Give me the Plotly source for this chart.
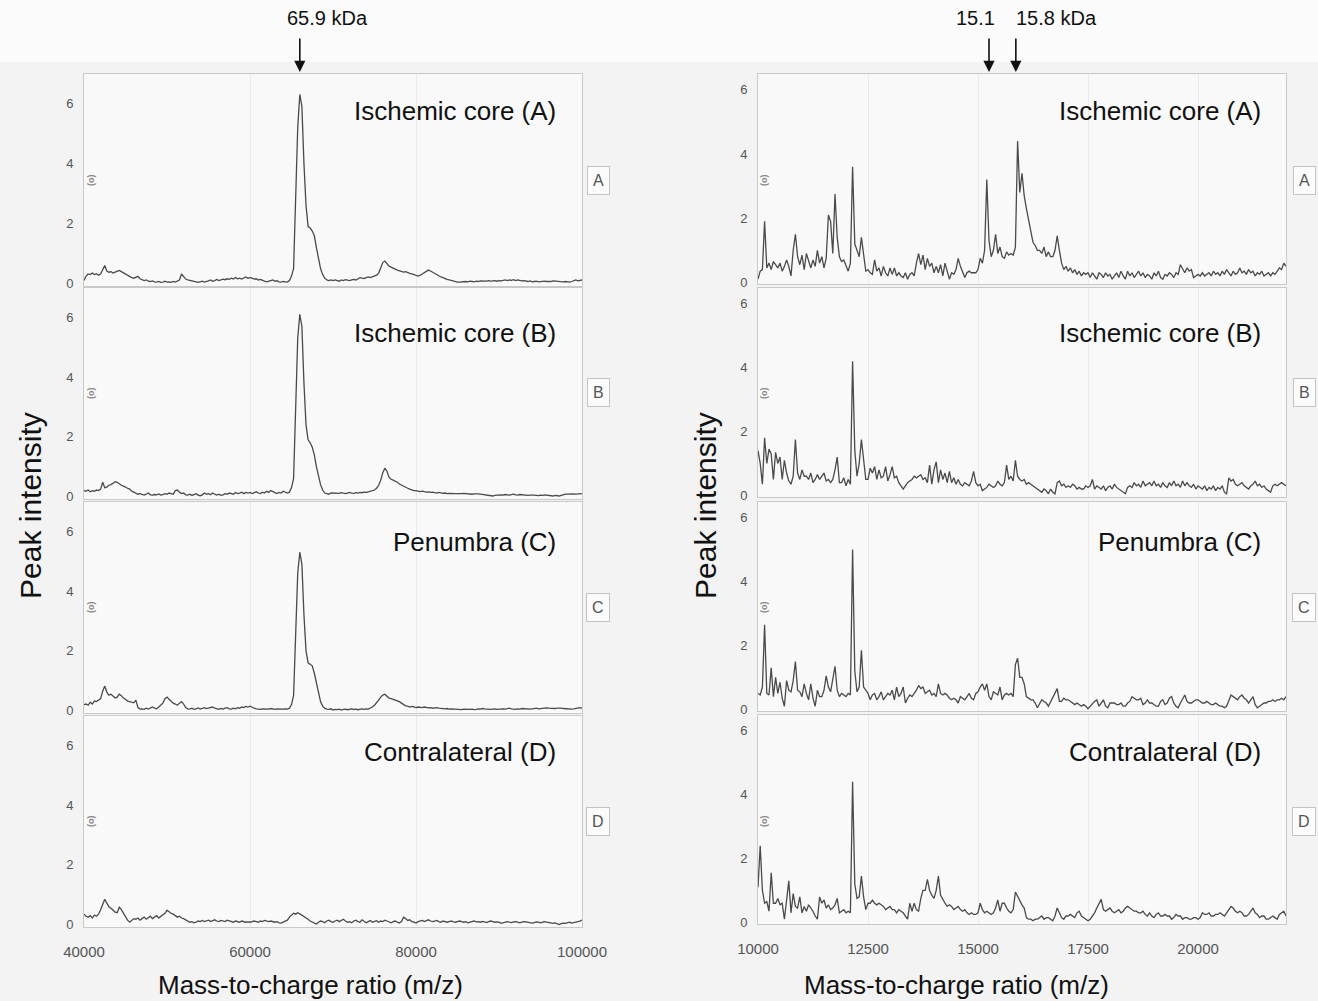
import plotly.graph_objects as go

W, H = 1318, 1001

# ---------------- data ----------------
left_x = list(range(40000, 100001, 250))      # m/z grid, left column
right_x = list(range(10000, 22001, 50))       # m/z grid, right column

left_A = [
    0.10, 0.25, 0.32, 0.30, 0.35, 0.30, 0.33, 0.28, 0.32, 0.45, 0.60, 0.42, 0.38, 0.40, 0.35, 0.38, 0.42, 0.44, 0.40, 0.36,
    0.32, 0.28, 0.22, 0.20, 0.18, 0.22, 0.24, 0.16, 0.12, 0.10, 0.12, 0.08, 0.07, 0.09, 0.06, 0.05, 0.07, 0.04, 0.05, 0.08,
    0.05, 0.06, 0.04, 0.07, 0.05, 0.08, 0.12, 0.32, 0.25, 0.15, 0.12, 0.10, 0.08, 0.06, 0.05, 0.04, 0.06, 0.08, 0.05, 0.06,
    0.09, 0.12, 0.08, 0.10, 0.14, 0.10, 0.12, 0.15, 0.13, 0.16, 0.14, 0.18, 0.15, 0.20, 0.16, 0.18, 0.15, 0.20, 0.22, 0.18,
    0.20, 0.18, 0.15, 0.16, 0.12, 0.14, 0.10, 0.08, 0.06, 0.07, 0.10, 0.12, 0.08, 0.10, 0.06, 0.05, 0.07, 0.06, 0.05, 0.10,
    0.25, 0.50, 2.50, 5.20, 6.30, 5.90, 4.00, 2.60, 1.90, 1.85, 1.75, 1.60, 1.20, 0.80, 0.50, 0.30, 0.18, 0.12, 0.10, 0.12,
    0.10, 0.12, 0.10, 0.08, 0.12, 0.10, 0.13, 0.12, 0.10, 0.12, 0.14, 0.12, 0.15, 0.20, 0.18, 0.17, 0.20, 0.22, 0.20, 0.22,
    0.24, 0.28, 0.35, 0.50, 0.70, 0.75, 0.65, 0.58, 0.55, 0.50, 0.48, 0.45, 0.42, 0.40, 0.38, 0.40, 0.36, 0.34, 0.32, 0.30,
    0.28, 0.25, 0.28, 0.32, 0.38, 0.42, 0.45, 0.42, 0.38, 0.32, 0.28, 0.25, 0.22, 0.20, 0.16, 0.14, 0.12, 0.10, 0.08, 0.06,
    0.05, 0.05, 0.06, 0.05, 0.07, 0.06, 0.08, 0.07, 0.06, 0.08, 0.07, 0.09, 0.08, 0.07, 0.08, 0.10, 0.08, 0.09, 0.10, 0.08,
    0.10, 0.09, 0.11, 0.12, 0.10, 0.12, 0.11, 0.13, 0.10, 0.12, 0.11, 0.09, 0.10, 0.08, 0.07, 0.09, 0.06, 0.07, 0.08, 0.06,
    0.07, 0.06, 0.08, 0.07, 0.06, 0.07, 0.09, 0.08, 0.07, 0.06, 0.05, 0.06, 0.07, 0.06, 0.05, 0.07, 0.10, 0.12, 0.09, 0.11,
    0.12]

left_B = [
    0.20, 0.18, 0.22, 0.16, 0.20, 0.18, 0.22, 0.20, 0.25, 0.48, 0.30, 0.32, 0.38, 0.40, 0.45, 0.50, 0.48, 0.42, 0.38, 0.35,
    0.30, 0.28, 0.25, 0.18, 0.15, 0.10, 0.08, 0.10, 0.07, 0.05, 0.08, 0.12, 0.06, 0.05, 0.07, 0.06, 0.09, 0.05, 0.07, 0.10,
    0.08, 0.12, 0.10, 0.08, 0.20, 0.22, 0.15, 0.10, 0.12, 0.06, 0.05, 0.08, 0.04, 0.06, 0.10, 0.05, 0.03, 0.06, 0.12, 0.08,
    0.10, 0.06, 0.12, 0.08, 0.05, 0.08, 0.04, 0.06, 0.10, 0.08, 0.12, 0.10, 0.08, 0.14, 0.10, 0.12, 0.15, 0.10, 0.14, 0.12,
    0.14, 0.10, 0.12, 0.16, 0.12, 0.10, 0.15, 0.12, 0.18, 0.14, 0.20, 0.16, 0.12, 0.10, 0.14, 0.12, 0.18, 0.15, 0.12, 0.15,
    0.30, 0.60, 2.80, 5.30, 6.10, 5.70, 3.80, 2.40, 1.90, 1.80, 1.65, 1.40, 1.00, 0.65, 0.40, 0.22, 0.12, 0.10, 0.08, 0.12,
    0.12, 0.10, 0.12, 0.11, 0.13, 0.12, 0.10, 0.12, 0.14, 0.12, 0.11, 0.13, 0.12, 0.14, 0.13, 0.15, 0.14, 0.16, 0.18, 0.20,
    0.22, 0.28, 0.38, 0.55, 0.80, 0.95, 0.85, 0.65, 0.58, 0.55, 0.52, 0.48, 0.42, 0.38, 0.34, 0.30, 0.28, 0.25, 0.22, 0.20,
    0.20, 0.18, 0.17, 0.18, 0.16, 0.15, 0.16, 0.14, 0.15, 0.13, 0.12, 0.14, 0.12, 0.11, 0.12, 0.10, 0.11, 0.10, 0.09, 0.10,
    0.10, 0.09, 0.10, 0.11, 0.10, 0.09, 0.10, 0.08, 0.09, 0.10, 0.09, 0.08, 0.07, 0.05, 0.03, 0.02, 0.03, 0.02, 0.04, 0.05,
    0.04, 0.06, 0.05, 0.07, 0.06, 0.05, 0.07, 0.08, 0.06, 0.05, 0.07, 0.06, 0.05, 0.06, 0.04, 0.05, 0.06, 0.05, 0.04, 0.03,
    0.05, 0.04, 0.06, 0.05, 0.04, 0.03, 0.02, 0.04, 0.03, 0.02, 0.04, 0.07, 0.08, 0.08, 0.09, 0.08, 0.09, 0.08, 0.09, 0.10,
    0.10]

left_C = [
    0.20, 0.22, 0.18, 0.28, 0.22, 0.32, 0.30, 0.35, 0.40, 0.65, 0.82, 0.62, 0.52, 0.55, 0.48, 0.42, 0.45, 0.55, 0.50, 0.42,
    0.38, 0.32, 0.30, 0.28, 0.26, 0.35, 0.10, 0.05, 0.06, 0.04, 0.08, 0.05, 0.10, 0.12, 0.08, 0.06, 0.12, 0.18, 0.25, 0.40,
    0.45, 0.38, 0.30, 0.25, 0.22, 0.18, 0.25, 0.30, 0.22, 0.10, 0.06, 0.05, 0.08, 0.04, 0.06, 0.09, 0.05, 0.08, 0.10, 0.07,
    0.08, 0.10, 0.12, 0.08, 0.06, 0.04, 0.07, 0.05, 0.08, 0.10, 0.06, 0.05, 0.08, 0.06, 0.10, 0.08, 0.12, 0.10, 0.14, 0.12,
    0.15, 0.10, 0.08, 0.06, 0.05, 0.04, 0.06, 0.05, 0.04, 0.05, 0.07, 0.05, 0.04, 0.06, 0.05, 0.04, 0.05, 0.06, 0.05, 0.08,
    0.20, 0.50, 2.50, 4.60, 5.30, 4.90, 3.20, 2.00, 1.60, 1.55, 1.50, 1.25, 0.90, 0.55, 0.30, 0.15, 0.08, 0.05, 0.04, 0.06,
    0.02, 0.04, 0.03, 0.05, 0.02, 0.04, 0.05, 0.03, 0.04, 0.06, 0.04, 0.05, 0.03, 0.05, 0.06, 0.04, 0.06, 0.05, 0.08, 0.12,
    0.18, 0.25, 0.35, 0.45, 0.52, 0.55, 0.48, 0.42, 0.40, 0.38, 0.35, 0.33, 0.30, 0.25, 0.20, 0.16, 0.15, 0.12, 0.14, 0.12,
    0.10, 0.12, 0.11, 0.10, 0.12, 0.10, 0.09, 0.10, 0.08, 0.09, 0.10, 0.08, 0.07, 0.08, 0.06, 0.07, 0.05, 0.06, 0.05, 0.04,
    0.05, 0.04, 0.03, 0.05, 0.04, 0.03, 0.04, 0.05, 0.03, 0.04, 0.06, 0.05, 0.07, 0.06, 0.05, 0.06, 0.04, 0.05, 0.06, 0.04,
    0.05, 0.07, 0.06, 0.05, 0.07, 0.08, 0.06, 0.05, 0.04, 0.06, 0.05, 0.07, 0.06, 0.05, 0.04, 0.05, 0.06, 0.07, 0.08, 0.06,
    0.07, 0.08, 0.07, 0.09, 0.08, 0.07, 0.06, 0.07, 0.08, 0.09, 0.08, 0.07, 0.06, 0.05, 0.06, 0.05, 0.06, 0.07, 0.08, 0.10,
    0.08]

left_D = [
    0.35, 0.28, 0.25, 0.30, 0.22, 0.32, 0.28, 0.35, 0.50, 0.70, 0.85, 0.72, 0.60, 0.55, 0.48, 0.42, 0.40, 0.58, 0.50, 0.38,
    0.30, 0.15, 0.08, 0.15, 0.20, 0.18, 0.22, 0.15, 0.20, 0.25, 0.18, 0.22, 0.28, 0.20, 0.24, 0.30, 0.22, 0.28, 0.32, 0.38,
    0.48, 0.42, 0.38, 0.35, 0.30, 0.25, 0.28, 0.22, 0.20, 0.16, 0.12, 0.08, 0.10, 0.06, 0.08, 0.12, 0.10, 0.14, 0.10, 0.12,
    0.15, 0.10, 0.13, 0.16, 0.12, 0.10, 0.14, 0.12, 0.10, 0.15, 0.13, 0.10, 0.08, 0.12, 0.10, 0.08, 0.12, 0.10, 0.08, 0.09,
    0.08, 0.10, 0.12, 0.10, 0.08, 0.12, 0.10, 0.14, 0.12, 0.10, 0.12, 0.09, 0.08, 0.10, 0.06, 0.05, 0.08, 0.10, 0.15, 0.25,
    0.30, 0.38, 0.35, 0.40, 0.36, 0.32, 0.28, 0.22, 0.18, 0.12, 0.08, 0.05, 0.02, 0.08, 0.12, 0.10, 0.06, 0.12, 0.15, 0.10,
    0.08, 0.12, 0.15, 0.10, 0.14, 0.18, 0.12, 0.08, 0.10, 0.06, 0.12, 0.15, 0.10, 0.08, 0.16, 0.12, 0.06, 0.10, 0.14, 0.08,
    0.10, 0.13, 0.08, 0.12, 0.10, 0.15, 0.12, 0.08, 0.06, 0.10, 0.12, 0.08, 0.05, 0.10, 0.25, 0.20, 0.14, 0.16, 0.10, 0.08,
    0.05, 0.10, 0.12, 0.14, 0.10, 0.12, 0.16, 0.12, 0.10, 0.12, 0.14, 0.10, 0.08, 0.12, 0.10, 0.08, 0.10, 0.12, 0.09, 0.08,
    0.10, 0.12, 0.10, 0.08, 0.10, 0.06, 0.08, 0.10, 0.12, 0.09, 0.10, 0.08, 0.11, 0.09, 0.07, 0.10, 0.12, 0.10, 0.08, 0.09,
    0.08, 0.04, 0.06, 0.08, 0.10, 0.08, 0.07, 0.09, 0.10, 0.08, 0.06, 0.08, 0.10, 0.09, 0.08, 0.06, 0.05, 0.07, 0.09, 0.08,
    0.06, 0.08, 0.10, 0.08, 0.06, 0.05, 0.04, 0.06, 0.02, 0.00, 0.03, 0.05, 0.04, 0.06, 0.08, 0.05, 0.06, 0.08, 0.10, 0.12,
    0.15]

right_A = [
    0.1, 0.35, 0.4, 1.9, 0.45, 0.6, 0.4, 0.65, 0.55, 0.45, 0.6, 0.35, 0.5, 0.7, 0.5, 0.2, 1.0, 1.5, 0.8, 0.55,
    0.85, 0.4, 0.9, 0.65, 0.45, 0.7, 0.5, 1.0, 0.6, 0.8, 0.45, 0.75, 2.1, 1.9, 0.9, 2.75, 1.4, 0.8, 0.65, 0.7,
    0.5, 0.35, 0.6, 3.6, 1.2, 1.0, 0.8, 1.4, 0.8, 0.35, 0.4, 0.3, 0.25, 0.7, 0.35, 0.45, 0.2, 0.5, 0.3, 0.2,
    0.45, 0.25, 0.45, 0.2, 0.3, 0.2, 0.15, 0.3, 0.1, 0.25, 0.3, 0.2, 0.6, 0.9, 0.55, 0.85, 0.4, 0.75, 0.5, 0.6,
    0.3, 0.5, 0.3, 0.55, 0.2, 0.6, 0.35, 0.1, 0.3, 0.25, 0.4, 0.75, 0.5, 0.3, 0.15, 0.3, 0.35, 0.3, 0.3, 0.3,
    0.4, 0.75, 0.6, 1.0, 3.2, 1.3, 0.8, 1.0, 1.5, 0.9, 1.1, 0.8, 0.75, 0.95, 0.85, 0.9, 0.85, 1.1, 4.4, 2.8,
    3.4, 2.7, 2.3, 1.9, 1.6, 1.25, 1.15, 1.0, 1.0, 0.9, 1.1, 0.8, 0.95, 0.8, 0.8, 1.0, 1.45, 1.0, 0.6, 0.4,
    0.5, 0.35, 0.45, 0.3, 0.4, 0.25, 0.35, 0.2, 0.3, 0.25, 0.3, 0.15, 0.3, 0.2, 0.1, 0.3, 0.25, 0.15, 0.3, 0.2,
    0.25, 0.1, 0.2, 0.3, 0.15, 0.35, 0.2, 0.1, 0.35, 0.2, 0.3, 0.15, 0.25, 0.35, 0.2, 0.3, 0.15, 0.25, 0.2, 0.1,
    0.3, 0.2, 0.35, 0.15, 0.1, 0.25, 0.2, 0.3, 0.25, 0.15, 0.3, 0.25, 0.55, 0.4, 0.3, 0.45, 0.35, 0.4, 0.15, 0.2,
    0.25, 0.2, 0.3, 0.2, 0.25, 0.3, 0.2, 0.35, 0.25, 0.3, 0.2, 0.35, 0.25, 0.4, 0.3, 0.2, 0.35, 0.25, 0.3, 0.45,
    0.3, 0.35, 0.25, 0.4, 0.3, 0.35, 0.2, 0.3, 0.25, 0.35, 0.2, 0.25, 0.3, 0.2, 0.3, 0.25, 0.35, 0.45, 0.4, 0.6,
    0.5]

right_B = [
    1.4, 1.0, 0.35, 1.8, 1.0, 1.45, 1.3, 0.5, 1.35, 1.0, 1.2, 0.5, 1.1, 0.7, 0.45, 0.35, 0.6, 1.75, 0.7, 0.5,
    0.8, 0.6, 0.6, 0.5, 0.7, 0.4, 0.5, 0.65, 0.5, 0.6, 0.7, 0.45, 0.5, 0.4, 0.5, 0.8, 1.2, 0.4, 0.4, 0.55,
    0.3, 0.5, 0.35, 4.2, 1.4, 0.6, 1.0, 1.75, 1.2, 0.5, 0.5, 0.85, 0.7, 0.9, 0.5, 0.8, 0.55, 0.6, 0.9, 0.45,
    0.65, 0.9, 0.55, 0.6, 0.4, 0.3, 0.2, 0.3, 0.4, 0.45, 0.5, 0.6, 0.55, 0.6, 0.65, 0.5, 0.55, 0.4, 0.95, 0.35,
    0.8, 1.05, 0.4, 0.8, 0.5, 0.7, 0.4, 0.75, 0.4, 0.55, 0.35, 0.5, 0.35, 0.3, 0.4, 0.35, 0.3, 0.45, 0.75, 0.4,
    0.3, 0.35, 0.15, 0.2, 0.25, 0.35, 0.3, 0.25, 0.3, 0.45, 0.35, 0.3, 0.4, 0.95, 0.5, 0.6, 0.45, 1.1, 0.6, 0.5,
    0.45, 0.5, 0.35, 0.4, 0.35, 0.3, 0.25, 0.2, 0.15, 0.1, 0.2, 0.15, 0.05, 0.2, 0.1, 0.05, 0.4, 0.45, 0.3, 0.35,
    0.25, 0.3, 0.25, 0.35, 0.3, 0.2, 0.25, 0.2, 0.2, 0.3, 0.25, 0.3, 0.5, 0.2, 0.3, 0.25, 0.2, 0.3, 0.15, 0.25,
    0.3, 0.2, 0.35, 0.25, 0.2, 0.15, 0.1, 0.05, 0.25, 0.3, 0.25, 0.4, 0.3, 0.35, 0.25, 0.45, 0.3, 0.35, 0.4, 0.3,
    0.45, 0.3, 0.35, 0.25, 0.4, 0.3, 0.25, 0.4, 0.3, 0.45, 0.3, 0.35, 0.25, 0.45, 0.3, 0.4, 0.3, 0.25, 0.35, 0.2,
    0.3, 0.25, 0.2, 0.3, 0.15, 0.25, 0.2, 0.3, 0.15, 0.25, 0.2, 0.3, 0.1, 0.05, 0.55, 0.45, 0.5, 0.35, 0.3, 0.35,
    0.4, 0.3, 0.25, 0.2, 0.3, 0.35, 0.45, 0.3, 0.35, 0.25, 0.3, 0.2, 0.15, 0.1, 0.3, 0.35, 0.3, 0.35, 0.4, 0.35,
    0.3]

right_C = [
    0.5, 0.45, 0.7, 2.65, 0.5, 0.45, 1.3, 0.4, 1.0, 0.5, 0.85, 0.35, 0.1, 0.9, 0.6, 0.55, 0.9, 1.5, 0.6, 0.55,
    0.4, 0.8, 0.5, 0.3, 0.8, 0.35, 0.1, 0.6, 0.4, 0.4, 0.6, 1.05, 0.7, 0.55, 0.95, 1.35, 0.6, 0.4, 0.5, 0.45,
    0.4, 0.5, 0.45, 5.0, 1.2, 0.55, 0.7, 1.85, 0.7, 0.6, 0.5, 0.3, 0.45, 0.5, 0.3, 0.4, 0.55, 0.3, 0.4, 0.5,
    0.45, 0.6, 0.3, 0.7, 0.4, 0.5, 0.7, 0.2, 0.35, 0.45, 0.4, 0.5, 0.6, 0.75, 0.65, 0.7, 0.5, 0.55, 0.6, 0.45,
    0.5, 0.4, 0.8, 0.5, 0.45, 0.5, 0.45, 0.35, 0.3, 0.35, 0.3, 0.2, 0.4, 0.35, 0.3, 0.4, 0.5, 0.35, 0.3, 0.5,
    0.55, 0.7, 0.8, 0.6, 0.8, 0.4, 0.3, 0.55, 0.5, 0.45, 0.7, 0.3, 0.45, 0.5, 0.45, 0.5, 0.4, 1.4, 1.6, 1.0,
    1.0, 0.8, 0.4, 0.35, 0.3, 0.3, 0.2, 0.05, 0.2, 0.3, 0.25, 0.2, 0.1, 0.25, 0.35, 0.5, 0.65, 0.25, 0.25, 0.35,
    0.3, 0.3, 0.25, 0.2, 0.15, 0.2, 0.15, 0.1, 0.15, 0.1, 0.02, 0.1, 0.15, 0.25, 0.3, 0.1, 0.2, 0.3, 0.1, 0.05,
    0.2, 0.2, 0.2, 0.15, 0.15, 0.2, 0.1, 0.1, 0.2, 0.25, 0.4, 0.35, 0.3, 0.3, 0.35, 0.15, 0.2, 0.3, 0.2, 0.2,
    0.15, 0.1, 0.1, 0.25, 0.3, 0.15, 0.2, 0.35, 0.4, 0.2, 0.1, 0.05, 0.2, 0.35, 0.45, 0.25, 0.2, 0.2, 0.25, 0.3,
    0.3, 0.25, 0.2, 0.2, 0.25, 0.2, 0.15, 0.15, 0.2, 0.15, 0.1, 0.1, 0.05, 0.1, 0.3, 0.45, 0.4, 0.35, 0.3, 0.4,
    0.45, 0.35, 0.3, 0.2, 0.3, 0.4, 0.15, 0.05, 0.1, 0.15, 0.2, 0.2, 0.25, 0.25, 0.3, 0.25, 0.3, 0.3, 0.35, 0.3,
    0.4]

right_D = [
    1.1, 2.4, 1.0, 0.6, 0.65, 0.35, 1.55, 0.6, 0.6, 0.75, 0.55, 0.6, 0.1, 0.7, 1.3, 0.3, 0.9, 0.5, 0.45, 0.8,
    0.3, 0.5, 0.35, 0.55, 0.45, 0.35, 0.2, 0.1, 0.8, 0.6, 0.7, 0.45, 0.55, 0.4, 0.45, 0.55, 0.75, 0.3, 0.35, 0.4,
    0.3, 0.35, 0.3, 4.4, 1.2, 0.75, 0.8, 1.45, 0.8, 0.4, 0.6, 0.6, 0.7, 0.6, 0.55, 0.6, 0.55, 0.5, 0.4, 0.45,
    0.5, 0.4, 0.4, 0.3, 0.4, 0.35, 0.3, 0.2, 0.1, 0.6, 0.35, 0.6, 0.4, 0.35, 0.75, 1.0, 1.0, 1.35, 1.0, 0.85,
    0.75, 1.0, 1.45, 0.85, 0.7, 0.6, 0.5, 0.55, 0.5, 0.4, 0.45, 0.5, 0.4, 0.35, 0.4, 0.3, 0.25, 0.3, 0.25, 0.25,
    0.3, 0.6, 0.4, 0.3, 0.35, 0.3, 0.25, 0.3, 0.45, 0.7, 0.35, 0.6, 0.6, 0.45, 0.35, 0.3, 0.4, 0.95, 0.8, 0.7,
    0.55, 0.45, 0.15, 0.1, 0.1, 0.05, 0.1, 0.1, 0.15, 0.2, 0.1, 0.15, 0.15, 0.1, 0.05, 0.2, 0.45, 0.3, 0.15, 0.1,
    0.2, 0.2, 0.25, 0.2, 0.15, 0.3, 0.35, 0.2, 0.15, 0.1, 0.05, 0.1, 0.2, 0.3, 0.45, 0.6, 0.72, 0.4, 0.35, 0.4,
    0.45, 0.35, 0.3, 0.35, 0.4, 0.3, 0.35, 0.45, 0.5, 0.45, 0.4, 0.35, 0.35, 0.3, 0.3, 0.35, 0.25, 0.2, 0.3, 0.2,
    0.15, 0.25, 0.3, 0.2, 0.2, 0.25, 0.2, 0.2, 0.1, 0.15, 0.25, 0.2, 0.2, 0.1, 0.15, 0.15, 0.1, 0.1, 0.15, 0.15,
    0.1, 0.15, 0.3, 0.25, 0.25, 0.3, 0.2, 0.2, 0.25, 0.25, 0.3, 0.25, 0.2, 0.3, 0.4, 0.5, 0.45, 0.35, 0.3, 0.35,
    0.3, 0.2, 0.2, 0.25, 0.35, 0.45, 0.3, 0.25, 0.15, 0.2, 0.2, 0.1, 0.1, 0.15, 0.2, 0.15, 0.1, 0.25, 0.3, 0.35,
    0.2]

panel_titles = ["Ischemic core (A)", "Ischemic core (B)", "Penumbra (C)", "Contralateral (D)"]
panel_letters = ["A", "B", "C", "D"]
left_ticks = [40000, 60000, 80000, 100000]
right_ticks = [10000, 12500, 15000, 17500, 20000]
y_ticks = [0, 2, 4, 6]

for arr in (left_A, left_B, left_C, left_D):
    assert len(arr) == len(left_x), len(arr)
for arr in (right_A, right_B, right_C, right_D):
    assert len(arr) == len(right_x), len(arr)

# ---------------- layout helpers ----------------
def fx(p):
    return p / W


def fy(p):
    return 1 - p / H


FONT = "Liberation Sans, Arial, sans-serif"
LINE = "#4a4a4a"
left_rows = [(74, 286), (288, 499), (502, 713), (716, 927)]
right_rows = [(74, 284), (288, 497), (502, 711), (715, 924)]
left_cols = (84, 582)
right_cols = (758, 1286)

fig = go.Figure()
layout = dict(
    width=W, height=H, margin=dict(l=0, r=0, t=0, b=0, pad=0, autoexpand=False),
    paper_bgcolor="#f3f3f3", plot_bgcolor="#f9f9f9",
    showlegend=False, font=dict(family=FONT, color="#222"),
)
annotations = []

columns = [
    (left_x, [left_A, left_B, left_C, left_D], left_rows, left_cols, [40000, 100000], [-0.08, 6.98], left_ticks),
    (right_x, [right_A, right_B, right_C, right_D], right_rows, right_cols, [10000, 22000], [-0.05, 6.49], right_ticks),
]

k = 0
for c, (xs, series, rows, cols, xr, yr, xt) in enumerate(columns):
    for r in range(4):
        k += 1
        xa = "xaxis" if k == 1 else f"xaxis{k}"
        ya = "yaxis" if k == 1 else f"yaxis{k}"
        xn = "x" if k == 1 else f"x{k}"
        yn = "y" if k == 1 else f"y{k}"
        top, bot = rows[r]
        fig.add_trace(go.Scatter(
            x=xs, y=series[r], mode="lines", xaxis=xn, yaxis=yn,
            line=dict(color=LINE, width=1.3), hoverinfo="skip"))
        layout[xa] = dict(
            domain=[fx(cols[0]), fx(cols[1])], anchor=yn, range=xr, automargin=False,
            tickvals=xt, ticktext=[str(v) for v in xt], showticklabels=(r == 3),
            ticks="", ticklabelstandoff=11,
            tickfont=dict(size=15, color="#555", family=FONT),
            showgrid=True, gridcolor="#ebebeb", gridwidth=1, zeroline=False,
            showline=True, mirror=True, linecolor="#c9c9c9", linewidth=1)
        layout[ya] = dict(
            domain=[fy(bot), fy(top)], anchor=xn, range=yr, automargin=False,
            tickvals=y_ticks, ticks="", ticklabelstandoff=7,
            tickfont=dict(size=13, color="#555", family=FONT),
            showgrid=False, zeroline=False,
            showline=True, mirror=True, linecolor="#c9c9c9", linewidth=1)
        # panel title
        title_right = 558 if c == 0 else 1263
        title_y = [111, 333, 542, 752][r]
        annotations.append(dict(
            xref="paper", yref="paper", x=fx(title_right), y=fy(title_y),
            xanchor="right", yanchor="middle", showarrow=False,
            text=panel_titles[r], font=dict(size=26, color="#111", family=FONT)))
        # side letter box
        mid = [180, 393, 607, 821][r]
        annotations.append(dict(
            xref="paper", yref="paper", x=fx(598 if c == 0 else 1304), y=fy(mid),
            xanchor="center", yanchor="middle", showarrow=False,
            text=panel_letters[r], font=dict(size=16, color="#555", family=FONT),
            bordercolor="#c4c4c4", borderwidth=1, borderpad=5, bgcolor="#fbfbfb"))
        # small "(o)" marker
        annotations.append(dict(
            xref="paper", yref="paper", x=fx(91 if c == 0 else 764), y=fy(mid),
            xanchor="center", yanchor="middle", showarrow=False, textangle=-90,
            text="<b>(o)</b>", font=dict(size=9, color="#8a8a8a", family=FONT)))

# axis titles
for cx in (30, 705):
    annotations.append(dict(
        xref="paper", yref="paper", x=fx(cx), y=fy(506), showarrow=False,
        textangle=-90, xanchor="center", yanchor="middle",
        text="Peak intensity", font=dict(size=30, color="#111", family=FONT)))
for cx in (310, 956):
    annotations.append(dict(
        xref="paper", yref="paper", x=fx(cx), y=fy(985), showarrow=False,
        xanchor="center", yanchor="middle",
        text="Mass-to-charge ratio (m/z)", font=dict(size=26, color="#111", family=FONT)))

# marker arrows and labels
arrow_marks = [("x", 66000), ("x5", 15250), ("x5", 15860)]
for xr_, xv in arrow_marks:
    annotations.append(dict(
        xref=xr_, yref="paper", x=xv, y=fy(72), ax=0, ay=-35,
        axref="pixel", ayref="pixel", text="", showarrow=True,
        arrowhead=2, arrowsize=1.4, arrowwidth=1.6, arrowcolor="#111", standoff=0))
for txt, cx in (("65.9 kDa", 327), ("15.1", 976), ("15.8 kDa", 1056)):
    annotations.append(dict(
        xref="paper", yref="paper", x=fx(cx), y=fy(18), showarrow=False,
        xanchor="center", yanchor="middle", text=txt,
        font=dict(size=20, color="#111", family=FONT)))

layout["annotations"] = annotations
layout["shapes"] = [dict(type="rect", xref="paper", yref="paper", x0=0, x1=1,
                         y0=fy(62), y1=1, fillcolor="#fbfbfb", line=dict(width=0),
                         layer="below")]
fig.update_layout(**layout)
fig.write_html("out.html")
